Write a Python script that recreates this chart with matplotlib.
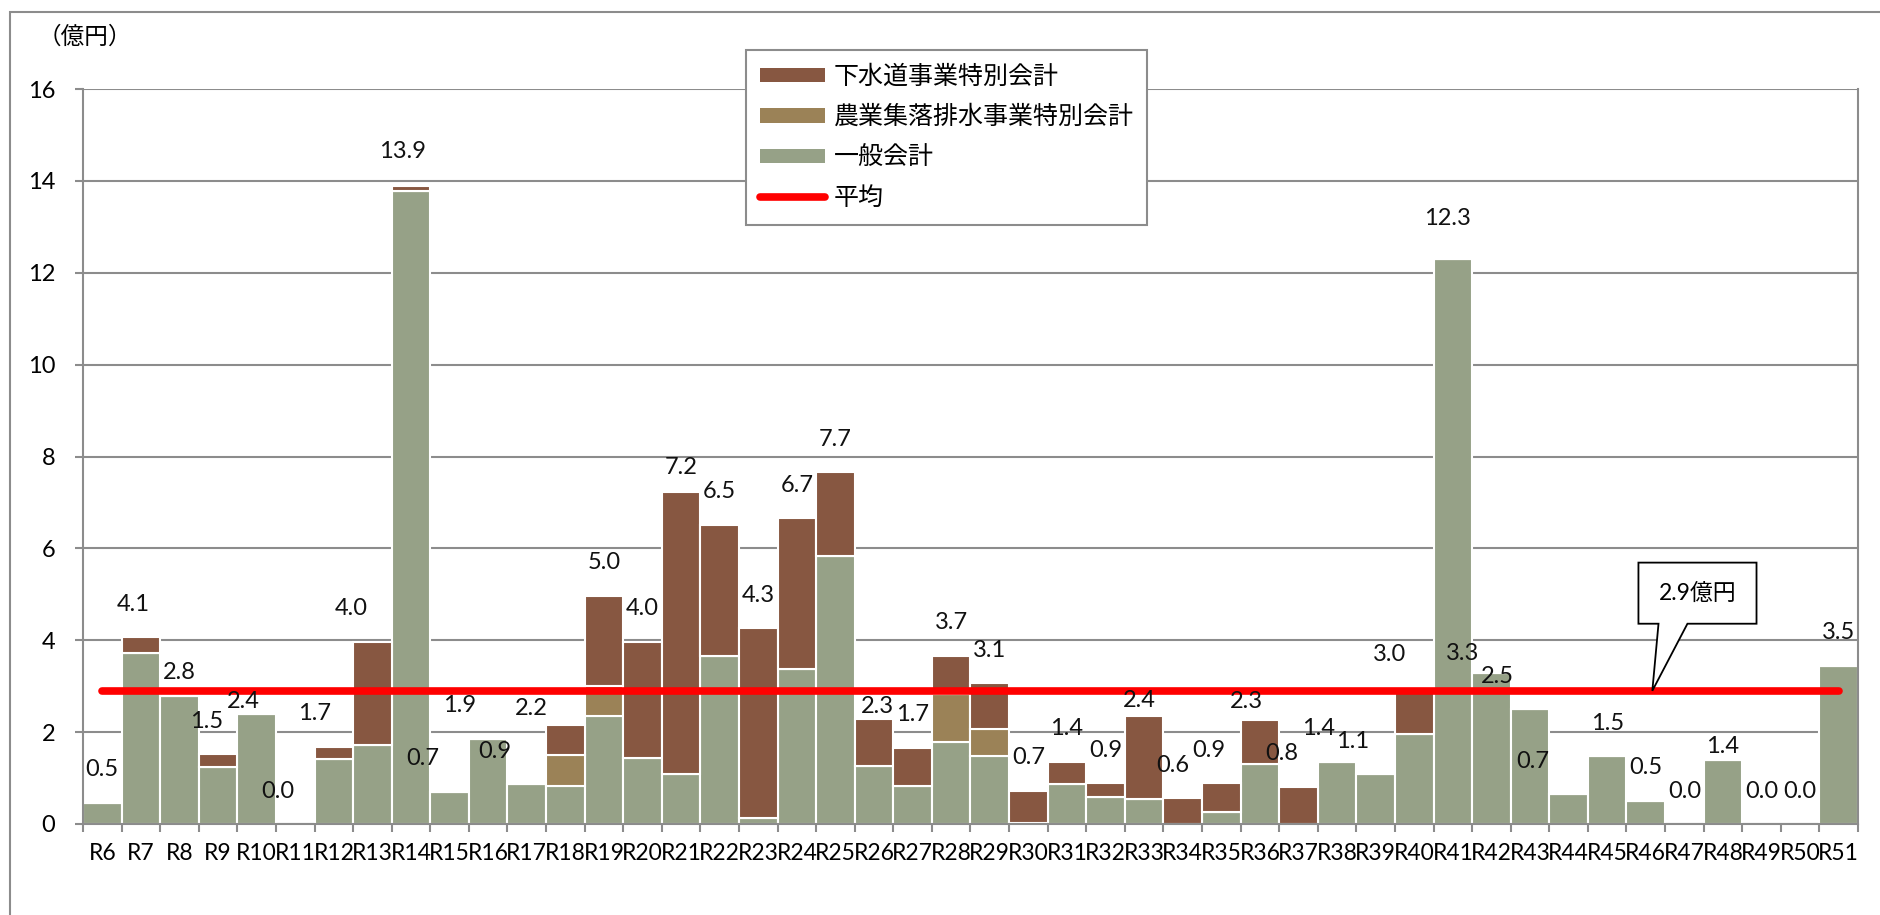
import matplotlib
matplotlib.use("Agg")
import matplotlib.pyplot as plt
from matplotlib.patches import Patch, Polygon, Rectangle
from matplotlib.lines import Line2D
import numpy as np

plt.rcParams['font.family'] = ['Lato', 'Noto Sans CJK JP', 'DejaVu Sans']

# --- data (億円) ---
years = ['R%d' % i for i in range(6, 52)]
general = [0.46, 3.73, 2.79, 1.24, 2.40, 0.00, 1.41, 1.71, 13.78, 0.70,
           1.86, 0.86, 0.83, 2.35, 1.44, 1.08, 3.65, 0.12, 3.38, 5.84,
           1.27, 0.83, 1.79, 1.48, 0.02, 0.87, 0.58, 0.55, 0.00, 0.27,
           1.31, 0.00, 1.36, 1.08, 1.96, 12.30, 3.28, 2.50, 0.65, 1.47,
           0.51, 0.00, 1.40, 0.00, 0.00, 3.45]
farm = [0, 0, 0, 0, 0, 0, 0, 0, 0, 0,
        0, 0, 0.67, 0.66, 0, 0, 0, 0, 0, 0,
        0, 0, 1.05, 0.59, 0, 0, 0, 0, 0, 0,
        0, 0, 0, 0, 0, 0, 0, 0, 0, 0,
        0, 0, 0, 0, 0, 0]
sewer = [0, 0.34, 0, 0.28, 0, 0, 0.27, 2.26, 0.10, 0,
         0, 0, 0.66, 1.96, 2.53, 6.14, 2.86, 4.14, 3.28, 1.82,
         1.02, 0.83, 0.82, 0.99, 0.70, 0.49, 0.31, 1.81, 0.56, 0.62,
         0.96, 0.81, 0, 0, 1.02, 0, 0, 0, 0, 0,
         0, 0, 0, 0, 0, 0]
average = 2.9

# label nudges in pixels (dx, dy) relative to default position
label_nudge = {'R7': (-8, 0), 'R8': (0, -10), 'R9': (-11, 0), 'R10': (-13, -21),
               'R11': (-17, 0), 'R12': (-19, 0), 'R13': (-21, 0), 'R14': (-8, 2),
               'R15': (-27, 0), 'R16': (-29, 0), 'R17': (-32, 0), 'R18': (-34, -17),
               'R21': (0, -8), 'R26': (3, -21), 'R33': (-5, -18), 'R34': (-10, 0),
               'R35': (-13, 0), 'R36': (-13, -15), 'R37': (-17, 0), 'R38': (-19, 0),
               'R39': (-23, 0), 'R40': (-25, 0), 'R41': (-5, 7), 'R42': (-29, -13),
               'R43': (-33, 0), 'R44': (-36, 0), 'R48': (0, -20)}

c_sewer = '#875741'
c_farm = '#9b8257'
c_gen = '#96a187'
grid_c = '#8c8c8c'

fig = plt.figure(figsize=(18.81, 9.15), dpi=100)
ax = fig.add_axes([83 / 1881, 1 - 824 / 915, (1858 - 83) / 1881, (824 - 89) / 915])

x = np.arange(len(years))
g = np.array(general)
f = np.array(farm)
s = np.array(sewer)
kw = dict(width=1.0, edgecolor='white', linewidth=1.5, zorder=2)
ax.bar(x, g, color=c_gen, **kw)
ax.bar(x, f, bottom=g, color=c_farm, **kw)
ax.bar(x, s, bottom=g + f, color=c_sewer, **kw)

ax.plot([x[0], x[-1]], [average, average], color='red', lw=5.5,
        solid_capstyle='round', zorder=4)

tot = g + f + s
for i, yr in enumerate(years):
    dx, dy = label_nudge.get(yr, (0, 0))
    ax.annotate('%.1f' % tot[i], (x[i], tot[i]), xytext=(dx, 33 + dy),
                textcoords='offset pixels', ha='center', va='center',
                fontsize=17, color='#111111', zorder=5)

ax.set_xlim(-0.5, len(years) - 0.5)
ax.set_ylim(0, 16)
ax.set_yticks(np.arange(0, 17, 2))
ax.yaxis.grid(True, color=grid_c, lw=1.5, zorder=0)
ax.set_axisbelow(True)
ax.set_xticks(np.arange(len(years) + 1) - 0.5)
ax.set_xticklabels([])
ax.set_xticks(x, minor=True)
ax.set_xticklabels(years, minor=True, fontsize=16.5)
ax.tick_params(axis='x', which='minor', length=0, pad=14)
ax.tick_params(axis='x', which='major', length=6, width=1.5, color=grid_c)
ax.tick_params(axis='y', length=6, width=1.5, color=grid_c, labelsize=17, pad=14)
for sp in ['top']:
    ax.spines[sp].set_visible(False)
for sp in ['left', 'bottom', 'right']:
    ax.spines[sp].set_color(grid_c)
    ax.spines[sp].set_linewidth(1.5)

# callout for the average
tip_x = 40.17
box = [(39.81, 4.36), (40.33, 4.36), (tip_x, average), (41.08, 4.36),
       (42.87, 4.36), (42.87, 5.69), (39.81, 5.69)]
ax.add_patch(Polygon(box, closed=True, facecolor='white', edgecolor='black',
                     lw=1.3, zorder=6))
ax.text(41.34, 5.03, '%.1f億円' % average, ha='center', va='center',
        fontsize=16.5, zorder=7)

# unit label and outer frame
fig.text(38 / 1881, 1 - 37 / 915, '（億円）', fontsize=17, va='center', ha='left',
         family=['Noto Sans CJK JP'])
fig.add_artist(Rectangle((10 / 1881, -0.1), 1.2, 1 - 12 / 915 + 0.1,
                         transform=fig.transFigure, fill=False,
                         edgecolor=grid_c, lw=1.5))

handles = [Patch(facecolor=c_sewer), Patch(facecolor=c_farm), Patch(facecolor=c_gen),
           Line2D([0], [0], color='red', lw=5.5, solid_capstyle='round')]
labels = ['下水道事業特別会計', '農業集落排水事業特別会計', '一般会計', '平均']
leg = fig.legend(handles, labels, loc='upper left',
                 bbox_to_anchor=(746 / 1881, 1 - 50 / 915), fontsize=18,
                 frameon=True, fancybox=False, edgecolor=grid_c, framealpha=1,
                 handlelength=2.6, handleheight=0.5, labelspacing=0.58,
                 borderpad=0.55, handletextpad=0.35, borderaxespad=0)
leg.get_frame().set_linewidth(1.5)
for t in leg.get_texts():
    t.set_family(['Noto Sans CJK JP'])

fig.savefig('out.png', dpi=100)
